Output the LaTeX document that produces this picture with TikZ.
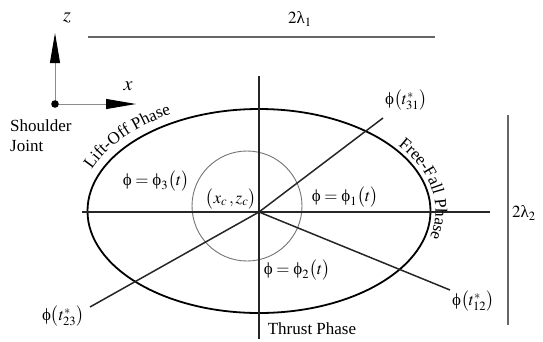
\documentclass[tikz,border=0pt]{standalone}
\usepackage{mathptmx}
\usepackage{fontspec}
\setmainfont{Liberation Serif}
\usetikzlibrary{positioning}
\usetikzlibrary{arrows.meta}
\usetikzlibrary{decorations.text}

\newcommand{\uphi}{\mbox{ϕ}}
\newcommand{\ulam}{\mbox{λ}}

\tikzset{
  lbl/.style={font=\fontsize{17}{20}\selectfont, inner sep=0pt},
  axisline/.style={draw=black!85, line width=1.5pt},
  dimline/.style={draw=black!60, line width=1.2pt},
  bigtip/.style={-{Triangle[length=30pt,width=10pt,black]}, draw=black!45, line width=0.9pt},
}

\begin{document}
\begin{tikzpicture}[x=1pt, y=1pt]
    \useasboundingbox (0,0) rectangle (543,-341);

    % shoulder frame
    \coordinate (o) at (55,-104);
    \coordinate (zend) at (55,-33);
    \coordinate (xend) at (136,-104);
    \draw[bigtip] (o) -- (zend);
    \draw[bigtip] (o) -- (xend);
    \fill (o) circle (3.8);
    \node[lbl] (zlab) at (67,-18) {\fontsize{20}{20}\selectfont$z$};
    \node[lbl] (xlab) at (128,-86) {\fontsize{20}{20}\selectfont$x$};
    \node[lbl, anchor=north west, align=left] (sj) at (10,-119) {Shoulder\\Joint};

    % ellipse and centre
    \coordinate (c) at (259,-212);
    \coordinate (cc) at (247,-206);
    \draw[line width=1.8pt] (259,-211) ellipse [x radius=171.5, y radius=102];
    \draw[black!55, line width=0.9pt] (cc) circle (55);

    \coordinate (hl) at (82,-212);
    \coordinate (hr) at (490,-212);
    \coordinate (vt) at (259,-76);
    \coordinate (vb) at (259,-339);
    \draw[axisline] (hl) -- (hr);
    \draw[axisline] (vt) -- (vb);

    \coordinate (r31) at (383,-118);
    \coordinate (r23) at (90,-307);
    \coordinate (r12) at (450,-290);
    \draw[axisline] (c) -- (r31);
    \draw[axisline] (c) -- (r23);
    \draw[axisline] (c) -- (r12);

    \node[lbl] (t31) at (406,-100) {$\uphi\bigl(t^*_{31}\bigr)$};
    \node[lbl] (t23) at (63,-316) {$\uphi\bigl(t^*_{23}\bigr)$};
    \node[lbl] (t12) at (473,-301) {$\uphi\bigl(t^*_{12}\bigr)$};

    \node[lbl] (ph1) at (345,-197) {$\uphi=\uphi_1\bigl(t\bigr)$};
    \node[lbl] (ph3) at (156,-181) {$\uphi=\uphi_3\bigl(t\bigr)$};
    \node[lbl] (ph2) at (297,-270) {$\uphi=\uphi_2\bigl(t\bigr)$};
    \node[lbl] (xz) at (231,-199) {$\bigl(x_c\,,z_c\bigr)$};

    % phase names
    \path[decorate, decoration={text along path, text align=left,
        text={|\fontsize{17}{20}\selectfont|Lift-Off Phase}}]
        (259,-211) ++(158:180.5 and 111) arc[start angle=158, end angle=80, x radius=180.5, y radius=111];
    \path[decorate, decoration={text along path, text align=left,
        text={|\fontsize{17}{20}\selectfont|Free-Fall Phase}}]
        (259,-211) ++(38:176.5 and 107) arc[start angle=38, end angle=-60, x radius=176.5, y radius=107];
    \node[lbl] (thrust) at (312,-329) {Thrust Phase};

    % dimensions
    \coordinate (d1a) at (88,-37);
    \coordinate (d1b) at (435,-37);
    \draw[dimline] (d1a) -- (d1b);
    \node[lbl] (l1) at (300,-19) {$2\ulam_1$};
    \coordinate (d2a) at (508,-115);
    \coordinate (d2b) at (508,-325);
    \draw[dimline] (d2a) -- (d2b);
    \node[lbl] (l2) at (524,-213) {$2\ulam_2$};
\end{tikzpicture}
\end{document}
